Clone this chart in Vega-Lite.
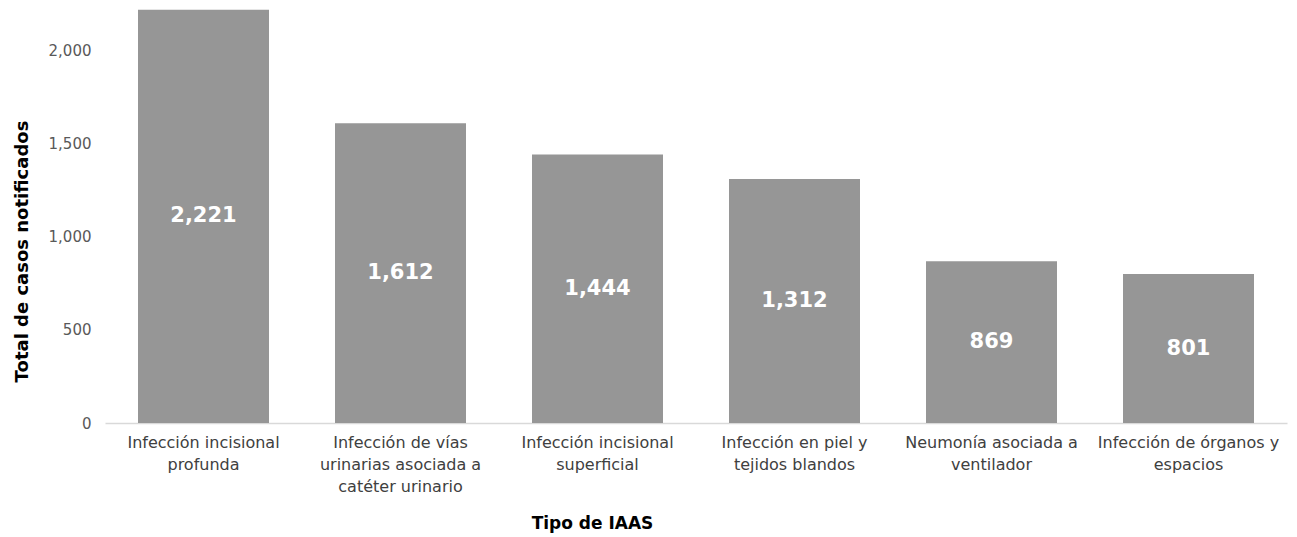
{
  "$schema": "https://vega.github.io/schema/vega-lite/v6.json",
  "autosize": "none",
  "width": 1182,
  "height": 423,
  "padding": {"left": 105, "top": 0, "right": 10, "bottom": 114},
  "background": "white",
  "config": {
    "view": {"stroke": null},
    "font": "DejaVu Sans"
  },
  "data": {
    "values": [
      {"tipo": "Infección incisional\nprofunda", "casos": 2221},
      {"tipo": "Infección de vías\nurinarias asociada a\ncatéter urinario", "casos": 1612},
      {"tipo": "Infección incisional\nsuperficial", "casos": 1444},
      {"tipo": "Infección en piel y\ntejidos blandos", "casos": 1312},
      {"tipo": "Neumonía asociada a\nventilador", "casos": 869},
      {"tipo": "Infección de órganos y\nespacios", "casos": 801}
    ]
  },
  "encoding": {
    "x": {
      "field": "tipo",
      "type": "nominal",
      "sort": null,
      "scale": {"paddingInner": 0.335, "paddingOuter": 0.1675},
      "axis": {
        "title": "Tipo de IAAS",
        "titleFont": "DejaVu Sans",
        "titleFontSize": 17,
        "titleFontWeight": "bold",
        "titleColor": "#000000",
        "titleX": 487,
        "titleY": 100,
        "titleAlign": "center",
        "titleBaseline": "middle",
        "labelExpr": "split(datum.label, '\\n')",
        "labelAngle": 0,
        "labelFontSize": 16,
        "labelColor": "#404040",
        "labelLineHeight": 22,
        "labelPadding": 11,
        "labelLimit": 260,
        "ticks": false,
        "domainColor": "#d9d9d9",
        "domainWidth": 1.5
      }
    }
  },
  "layer": [
    {
      "mark": {"type": "bar", "color": "#969696"},
      "encoding": {
        "y": {
          "field": "casos",
          "type": "quantitative",
          "scale": {"domain": [0, 2274], "nice": false},
          "axis": {
            "title": "Total de casos notificados",
            "titleFont": "DejaVu Sans",
            "titleFontSize": 18,
            "titleFontWeight": "bold",
            "titleColor": "#000000",
            "titleX": -83,
            "titleY": 251,
            "titleAngle": -90,
            "titleAlign": "center",
            "titleBaseline": "middle",
            "values": [0, 500, 1000, 1500, 2000],
            "format": ",.0f",
            "labelFontSize": 15,
            "labelColor": "#595959",
            "labelPadding": 14,
            "ticks": false,
            "domain": false,
            "grid": false
          }
        }
      }
    },
    {
      "mark": {"type": "text", "color": "white", "fontWeight": "bold", "fontSize": 21, "baseline": "middle"},
      "encoding": {
        "y": {
          "field": "casos",
          "type": "quantitative",
          "scale": {"domain": [0, 4548], "nice": false},
          "axis": null
        },
        "text": {"field": "casos", "type": "quantitative", "format": ",.0f"}
      }
    }
  ],
  "resolve": {"scale": {"y": "independent"}}
}
